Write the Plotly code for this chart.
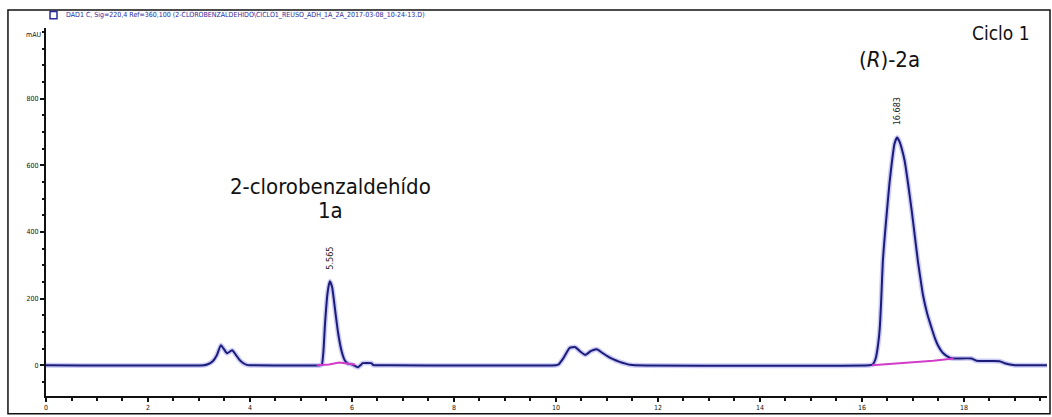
import plotly.graph_objects as go

# Chromatogram signal (time in min, absorbance in mAU)
time_min = [0.0, 3.10, 3.16, 3.27, 3.35, 3.43, 3.49, 3.55, 3.65, 3.72, 3.80, 3.88, 3.94, 4.00,
            5.38, 5.41, 5.44, 5.47, 5.52, 5.565, 5.61, 5.67, 5.73, 5.80, 5.86, 5.92, 6.00,
            6.08, 6.12, 6.17, 6.21, 6.38, 6.42, 6.50,
            10.00, 10.05, 10.15, 10.27, 10.38, 10.47, 10.58, 10.68, 10.80, 10.90, 11.00,
            11.12, 11.25, 11.38, 11.46, 11.55,
            16.15, 16.21, 16.27, 16.32, 16.35, 16.38, 16.41, 16.45, 16.49, 16.54, 16.59,
            16.64, 16.69, 16.74, 16.79, 16.84, 16.91, 16.98, 17.04, 17.10, 17.15, 17.20,
            17.28, 17.37, 17.43, 17.49, 17.60, 17.73, 17.80,
            18.15, 18.25, 18.70, 18.80, 19.00, 19.63]
absorb_mau = [0, 0, 2, 12, 30, 60, 48, 36, 45, 32, 15, 5, 1, 0,
              0, 2, 40, 120, 215, 252, 235, 165, 95, 40, 14, 5, 2,
              -4, -6, 0, 6, 6, 0, 0,
              0, 2, 22, 52, 54, 42, 31, 42, 48, 38, 28,
              18, 10, 4, 1, 0,
              0, 2, 20, 65, 110, 200, 310, 390, 460, 545, 612,
              665, 683, 670, 645, 612, 540, 460, 385, 310, 258, 209,
              155, 110, 82, 60, 35, 22, 20,
              20, 13, 12, 6, 0, 0]

# Integration baselines (pink)
base1_t = [5.31, 5.55, 5.75, 6.06]
base1_v = [0, 2, 8, 2]
base2_t = [16.20, 16.80, 17.40, 17.80]
base2_v = [0, 6, 13, 20]

# Retention-time labels
rt_labels = ["5.565", "16.683"]
rt_x = [5.565, 16.683]
rt_y = [322, 761]

FONT_N = "Liberation Sans Narrow, Arial Narrow, DejaVu Sans Condensed, Liberation Sans, sans-serif"

fig = go.Figure()
# soft halo under the signal
fig.add_trace(go.Scatter(x=time_min, y=absorb_mau, mode="lines",
                         line=dict(color="rgba(110,110,230,0.35)", width=5, shape="spline", smoothing=0.5),
                         hoverinfo="skip", showlegend=False))
fig.add_trace(go.Scatter(x=time_min, y=absorb_mau, mode="lines",
                         line=dict(color="#1b1b7a", width=2, shape="spline", smoothing=0.5),
                         showlegend=False))
for bt, bv in [(base1_t, base1_v), (base2_t, base2_v)]:
    fig.add_trace(go.Scatter(x=bt, y=bv, mode="lines",
                             line=dict(color="#d23cc8", width=2),
                             showlegend=False))

annotations = []
for lab, x, y in zip(rt_labels, rt_x, rt_y):
    annotations.append(dict(x=x, y=y, xref="x", yref="y", text=lab, showarrow=False,
                            textangle=-90, font=dict(family=FONT_N, size=9, color="#222")))

annotations += [
    dict(x=5.57, y=537, xref="x", yref="y", text="2-clorobenzaldehído", showarrow=False,
         font=dict(family=FONT_N, size=22, color="#111")),
    dict(x=5.57, y=463, xref="x", yref="y", text="1a", showarrow=False,
         font=dict(family=FONT_N, size=22, color="#111")),
    dict(x=16.55, y=916, xref="x", yref="y", text="(<i>R</i>)-2a", showarrow=False,
         font=dict(family=FONT_N, size=22, color="#111")),
    dict(x=18.72, y=997, xref="x", yref="y", text="Ciclo 1", showarrow=False,
         font=dict(family=FONT_N, size=19, color="#111")),
    dict(x=0, y=991, xref="paper", yref="y", text="mAU", showarrow=False, xanchor="right",
         xshift=-3, font=dict(family=FONT_N, size=7, color="#111")),
    dict(x=0.018, y=1.035, xref="paper", yref="paper", xanchor="left", yanchor="middle",
         text="DAD1 C, Sig=220,4 Ref=360,100 (2-CLOROBENZALDEHIDO\\CICLO1_REUSO_ADH_1A_2A_2017-03-08_10-24-13.D)",
         showarrow=False, font=dict(family=FONT_N, size=7, color="#2a2aa0")),
]

shapes = [
    # outer frame
    dict(type="rect", xref="paper", yref="paper", x0=-0.038, x1=1.003, y0=-0.048, y1=1.049,
         line=dict(color="#111", width=1.5)),
    # small legend square
    dict(type="rect", xref="paper", yref="paper", x0=0.004, x1=0.011, y0=1.025, y1=1.045,
         line=dict(color="#2a2aa0", width=1.5)),
]

fig.update_layout(
    width=1052, height=417,
    margin=dict(l=46, r=5, t=28, b=19),
    paper_bgcolor="white", plot_bgcolor="white",
    annotations=annotations, shapes=shapes,
    xaxis=dict(range=[0, 19.63], tickvals=[0, 2, 4, 6, 8, 10, 12, 14, 16, 18],
               ticks="outside", ticklen=4, tickwidth=1.5, tickcolor="#111",
               showline=True, linecolor="#111", linewidth=2, showgrid=False, zeroline=False,
               tickfont=dict(family=FONT_N, size=7, color="#111"),
               minor=dict(ticks="outside", dtick=0.5, ticklen=3, tickcolor="#111")),
    yaxis=dict(range=[-92.5, 1012], tickvals=[0, 200, 400, 600, 800],
               ticks="outside", ticklen=4, tickwidth=1.5, tickcolor="#111",
               showline=True, linecolor="#111", linewidth=2, showgrid=False, zeroline=False,
               tickfont=dict(family=FONT_N, size=7, color="#111"),
               minor=dict(ticks="outside", dtick=50, ticklen=2, tickcolor="#111")),
)

fig.write_html("out.html")
